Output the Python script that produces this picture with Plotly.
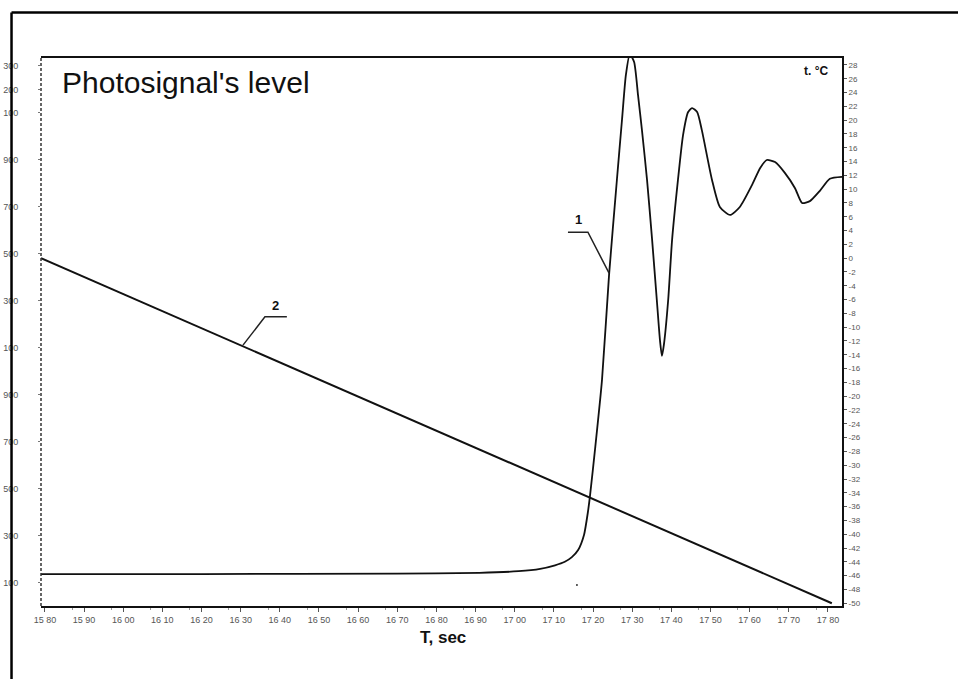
import plotly.graph_objects as go

# ---- data ----
T_signal = [1579.0, 1620.0, 1670.0, 1691.0, 1701.0, 1706.5, 1710.3, 1712.8, 1714.6, 1716.2,
            1717.7, 1718.7, 1719.2, 1720.5, 1722.3, 1724.1, 1726.1, 1727.4, 1728.4, 1729.4,
            1730.5, 1731.5, 1732.5, 1733.8, 1735.1, 1736.3, 1737.1, 1737.6, 1738.1, 1739.2,
            1740.2, 1741.7, 1743.0, 1744.3, 1745.3, 1746.6, 1747.8, 1750.4, 1752.4, 1755.0,
            1757.5, 1760.6, 1762.7, 1764.4, 1766.5, 1769.0, 1771.6, 1773.4, 1775.4, 1778.0,
            1780.5, 1783.6]
signal = [138, 138, 140, 143, 150, 160, 175, 190, 210, 240,
          304, 402, 466, 666, 964, 1411, 1815, 2070, 2262, 2350,
          2317, 2176, 2027, 1815, 1560, 1304, 1134, 1066, 1113, 1304,
          1560, 1815, 2006, 2104, 2121, 2104, 2027, 1815, 1700, 1666,
          1700, 1793, 1866, 1900, 1891, 1845, 1780, 1717, 1725, 1770,
          1820, 1828]

T_temp = [1579.0, 1781.0]
temp = [0.0, -50.0]

x_ticks = list(range(1580, 1790, 10))
x_ticklabels = [f"{v // 100} {v % 100:02d}" for v in x_ticks]

left_ticks = [100, 300, 500, 700, 900, 1100, 1300, 1500, 1700, 1900, 2100, 2200, 2300]
left_ticklabels = ["100", "300", "500", "700", "900", "100", "300", "500", "700", "900", "100", "200", "300"]

right_ticks = list(range(-50, 30, 2))
right_ticklabels = [str(v) for v in right_ticks]

X_RANGE = [1579.0, 1783.6]
LEFT_RANGE = [2, 2334]
RIGHT_RANGE = [-50.4, 29.0]

fig = go.Figure()
fig.add_trace(go.Scatter(x=T_signal, y=signal, mode="lines", yaxis="y",
                         line=dict(color="#111111", width=1.8, shape="spline", smoothing=0.6),
                         showlegend=False, hoverinfo="skip"))
fig.add_trace(go.Scatter(x=T_temp, y=temp, mode="lines", yaxis="y2",
                         line=dict(color="#111111", width=2), showlegend=False,
                         hoverinfo="skip"))
fig.add_trace(go.Scatter(x=[1715.9], y=[91], mode="markers", yaxis="y",
                         marker=dict(color="#333", size=2), showlegend=False,
                         hoverinfo="skip"))

tickfont = dict(family="Liberation Sans, Arial", size=9, color="#555555")

fig.update_layout(
    width=958, height=679,
    margin=dict(l=41, r=116, t=58, b=73),
    paper_bgcolor="white", plot_bgcolor="white",
    xaxis=dict(range=X_RANGE, tickvals=x_ticks, ticktext=x_ticklabels,
               showgrid=False, zeroline=False, showline=True, linecolor="#111",
               linewidth=2, mirror=True, ticks="outside", ticklen=4, tickcolor="#555",
               tickfont=tickfont, automargin=False,
               minor=dict(tickvals=[v + 7 for v in x_ticks], ticks="outside", ticklen=2,
                          tickcolor="#999")),
    yaxis=dict(range=LEFT_RANGE, tickvals=left_ticks, ticktext=left_ticklabels,
               showgrid=False, zeroline=False, showline=False, automargin=False,
               ticks="outside", ticklen=2, tickcolor="#777", tickfont=tickfont,
               ticklabelstandoff=18),
    yaxis2=dict(range=RIGHT_RANGE, overlaying="y", side="right",
                tickvals=right_ticks, ticktext=right_ticklabels, automargin=False,
                showgrid=False, zeroline=False, showline=True, linecolor="#111",
                linewidth=2, ticks="outside", ticklen=3, tickcolor="#555",
                tickfont=dict(family="Liberation Sans, Arial", size=8, color="#555555")),
)

# left dashed axis line
fig.add_shape(type="line", xref="paper", yref="paper", x0=0, x1=0, y0=0, y1=1,
              line=dict(color="#333", width=1.5, dash="3px,2px"), layer="above")
# outer frame (left and top)
fig.add_shape(type="line", xref="paper", yref="paper", x0=-0.0368, x1=-0.0368, y0=-0.14, y1=1.083,
              line=dict(color="#000", width=2.5), layer="above")
fig.add_shape(type="line", xref="paper", yref="paper", x0=-0.0368, x1=1.2, y0=1.083, y1=1.083,
              line=dict(color="#000", width=2.5), layer="above")

# leader lines for labels 1 and 2 (in data coordinates on the right axis)
fig.add_shape(type="path", xref="x", yref="y2",
              path="M 1713.6 3.75 L 1718.7 3.75 L 1724.1 -2.16",
              line=dict(color="#222", width=1.5))
fig.add_shape(type="path", xref="x", yref="y2",
              path="M 1641.8 -8.5 L 1636.2 -8.5 L 1630.6 -12.6",
              line=dict(color="#222", width=1.5))

fig.add_annotation(x=1716.2, y=5.6, xref="x", yref="y2", text="<b>1</b>", showarrow=False,
                   font=dict(family="Liberation Sans, Arial", size=13, color="#111"))
fig.add_annotation(x=1638.8, y=-6.9, xref="x", yref="y2", text="<b>2</b>", showarrow=False,
                   font=dict(family="Liberation Sans, Arial", size=13, color="#111"))

fig.add_annotation(x=0.024, y=0.955, xref="paper", yref="paper", xanchor="left", yanchor="middle",
                   text="Photosignal's level", showarrow=False,
                   font=dict(family="Liberation Sans, Arial", size=30, color="#111"))
fig.add_annotation(x=0.985, y=0.976, xref="paper", yref="paper", xanchor="right", yanchor="middle",
                   text="<b>t. °C</b>", showarrow=False,
                   font=dict(family="Liberation Sans, Arial", size=12, color="#111"))
fig.add_annotation(x=0.502, y=-0.058, xref="paper", yref="paper", xanchor="center", yanchor="middle",
                   text="<b>T, sec</b>", showarrow=False,
                   font=dict(family="Liberation Sans, Arial", size=17, color="#111"))

fig.write_html("out.html", config={"displayModeBar": False},
               post_script="document.body.style.margin='0px';")
